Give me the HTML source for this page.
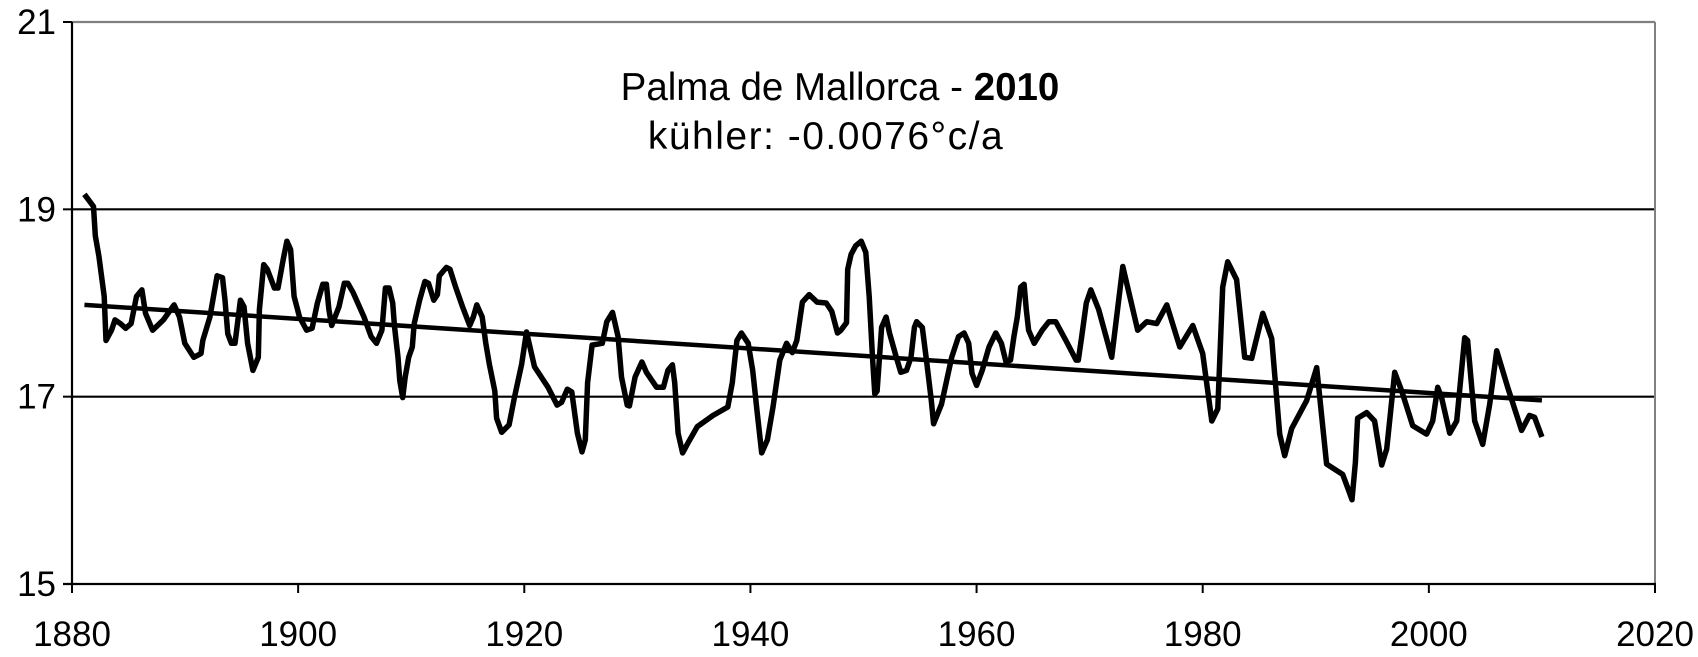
<!DOCTYPE html>
<html>
<head>
<meta charset="utf-8">
<style>
html,body{margin:0;padding:0;background:#fff;}
svg{display:block;}
text{font-family:"Liberation Sans",Arial,sans-serif;fill:#000;}
</style>
</head>
<body>
<svg id="chart" width="1698" height="657" viewBox="0 0 1698 657" xmlns="http://www.w3.org/2000/svg">
  <g id="grid"></g>
  <g id="axes"></g>
  <g id="series"></g>
  <text x="840" y="100" font-size="38.5" text-anchor="middle">Palma de Mallorca - <tspan font-weight="bold">2010</tspan></text>
  <text x="826" y="149" font-size="39" text-anchor="middle" letter-spacing="1.5">kühler: -0.0076°c/a</text>
</svg>
<script>
const years = [1881.1,1881.9,1882.06,1882.38,1882.85,1883.01,1883.49,1883.8,1884.28,1884.75,1885.23,1885.7,1886.18,1886.5,1887.13,1888.08,1889.03,1889.51,1889.98,1890.77,1891.41,1891.57,1892.2,1892.83,1893.31,1893.53,1893.78,1894.1,1894.42,1894.89,1895.21,1895.53,1896.0,1896.48,1896.57,1896.95,1897.27,1897.9,1898.22,1898.69,1899.01,1899.33,1899.64,1900.12,1900.75,1901.23,1901.7,1902.18,1902.5,1902.72,1902.97,1903.61,1904.08,1904.4,1904.87,1905.82,1906.46,1906.93,1907.41,1907.72,1908.04,1908.36,1908.52,1908.83,1908.99,1909.25,1909.47,1909.78,1910.1,1910.26,1910.74,1911.21,1911.53,1912.0,1912.32,1912.48,1913.11,1913.43,1913.9,1914.54,1915.17,1915.49,1915.8,1916.28,1916.6,1916.91,1917.39,1917.55,1918.0,1918.66,1919.13,1919.77,1920.2,1920.9,1922.1,1922.9,1923.3,1923.8,1924.2,1924.7,1925.1,1925.4,1925.6,1926.0,1926.9,1927.3,1927.8,1928.3,1928.6,1929.1,1929.3,1929.8,1930.4,1930.8,1931.7,1932.3,1932.7,1933.1,1933.3,1933.6,1934.0,1934.5,1935.3,1936.7,1938.0,1938.4,1938.8,1939.2,1939.8,1940.2,1940.6,1941.0,1941.5,1942.0,1942.6,1943.2,1943.7,1944.1,1944.6,1945.2,1945.9,1946.7,1947.2,1947.7,1948.0,1948.5,1948.6,1948.9,1949.3,1949.8,1950.2,1950.5,1950.8,1951.0,1951.2,1951.6,1952.0,1952.3,1952.9,1953.3,1953.8,1954.2,1954.5,1954.7,1955.2,1955.6,1956.0,1956.2,1956.9,1957.8,1958.4,1958.9,1959.3,1959.6,1960.0,1960.5,1961.1,1961.7,1962.2,1962.6,1963.0,1963.3,1963.6,1963.9,1964.2,1964.4,1964.6,1965.1,1965.8,1966.4,1967.0,1967.9,1968.8,1969.0,1969.3,1969.7,1970.1,1970.8,1971.95,1972.93,1974.25,1975.05,1975.93,1976.82,1977.97,1979.12,1980.0,1980.8,1981.33,1981.77,1982.21,1983.0,1983.71,1984.33,1985.31,1986.1,1986.81,1987.25,1987.87,1989.2,1990.08,1990.96,1992.38,1992.9,1993.2,1993.5,1993.7,1994.5,1995.2,1995.83,1996.27,1996.98,1997.6,1998.57,1999.8,2000.34,2000.78,2001.13,2001.84,2002.46,2003.17,2003.43,2004.05,2004.76,2005.38,2006.0,2006.97,2008.2,2008.9,2009.35,2010.0];
const temps = [19.16,19.03,18.72,18.5,18.07,17.6,17.71,17.82,17.78,17.73,17.78,18.07,18.14,17.89,17.71,17.82,17.98,17.85,17.57,17.42,17.46,17.6,17.85,18.29,18.27,18.03,17.67,17.57,17.57,18.03,17.96,17.57,17.28,17.42,17.93,18.41,18.36,18.16,18.16,18.47,18.66,18.57,18.07,17.85,17.71,17.73,18.0,18.2,18.2,17.93,17.76,17.96,18.21,18.21,18.11,17.85,17.64,17.57,17.71,18.16,18.16,18.0,17.75,17.42,17.17,16.99,17.21,17.42,17.53,17.78,18.03,18.23,18.21,18.03,18.09,18.29,18.38,18.36,18.18,17.96,17.76,17.85,17.98,17.85,17.57,17.35,17.06,16.77,16.62,16.7,16.99,17.35,17.69,17.32,17.1,16.91,16.94,17.08,17.05,16.61,16.41,16.54,17.15,17.55,17.57,17.8,17.9,17.64,17.21,16.91,16.9,17.21,17.37,17.26,17.1,17.1,17.28,17.34,17.15,16.61,16.4,16.51,16.68,16.8,16.89,17.15,17.6,17.68,17.57,17.28,16.83,16.4,16.54,16.89,17.39,17.57,17.47,17.6,18.01,18.09,18.01,18.0,17.91,17.68,17.71,17.79,18.36,18.52,18.61,18.66,18.54,18.07,17.42,17.03,17.06,17.74,17.85,17.68,17.42,17.26,17.28,17.42,17.74,17.8,17.74,17.36,16.96,16.71,16.92,17.42,17.64,17.68,17.57,17.25,17.12,17.28,17.53,17.68,17.57,17.37,17.39,17.64,17.85,18.17,18.2,17.93,17.71,17.57,17.71,17.8,17.8,17.6,17.39,17.39,17.64,18.0,18.14,17.93,17.42,18.39,17.71,17.8,17.78,17.98,17.53,17.76,17.46,16.74,16.87,18.17,18.44,18.25,17.42,17.41,17.89,17.62,16.6,16.37,16.66,16.96,17.31,16.28,16.17,16.0,15.9,16.3,16.77,16.83,16.74,16.27,16.44,17.26,17.06,16.69,16.6,16.74,17.1,16.99,16.61,16.74,17.63,17.6,16.74,16.49,16.92,17.49,17.1,16.64,16.8,16.78,16.57];
const trendYears = [1881.1, 2010.0];
const trendValues = [17.98, 16.96];
const yTicks = [15, 17, 19, 21];
const xTicks = [1880, 1900, 1920, 1940, 1960, 1980, 2000, 2020];

const X0 = 72, X1 = 1655, Y0 = 584, Y1 = 22;
function xs(yr){ return X0 + (yr - 1880) / 140 * (X1 - X0); }
function ys(v){ return Y0 - (v - 15) / 6 * (Y0 - Y1); }
const NS = "http://www.w3.org/2000/svg";
function mk(tag, attrs, parent){
  const e = document.createElementNS(NS, tag);
  for (const k in attrs) e.setAttribute(k, attrs[k]);
  parent.appendChild(e);
  return e;
}
const grid = document.getElementById('grid');
const axes = document.getElementById('axes');
const series = document.getElementById('series');

yTicks.forEach(function(v){
  const y = ys(v);
  if (v !== 15) {
    const gl = mk('line', {x1: X0, x2: X1, y1: y, y2: y, stroke: v === 21 ? '#808080' : '#000', 'stroke-width': 2.2}, grid);
    
    
  }
  const tk = mk('line', {x1: X0 - 9, x2: X0, y1: y, y2: y, stroke: '#000', 'stroke-width': 2}, axes);
  
  
  const t = mk('text', {x: 56, y: y + 12, 'font-size': 35, 'text-anchor': 'end'}, axes);
  t.textContent = String(v);
  
  
});

const rb = mk('line', {x1: X1, x2: X1, y1: Y1, y2: Y0, stroke: '#808080', 'stroke-width': 2}, axes);


const ya = mk('line', {x1: X0, x2: X0, y1: Y1, y2: Y0 + 1, stroke: '#000', 'stroke-width': 2.2}, axes);


const xa = mk('line', {x1: X0 - 9, x2: X1 + 1, y1: Y0, y2: Y0, stroke: '#000', 'stroke-width': 2.2}, axes);



xTicks.forEach(function(yr){
  const x = xs(yr);
  const tk = mk('line', {x1: x, x2: x, y1: Y0, y2: Y0 + 9, stroke: '#000', 'stroke-width': 2}, axes);
  
  
  const t = mk('text', {x: x, y: 646, 'font-size': 35, 'text-anchor': 'middle'}, axes);
  t.textContent = String(yr);
  
  
});

const tl = mk('line', {x1: xs(trendYears[0]), y1: ys(trendValues[0]), x2: xs(trendYears[1]), y2: ys(trendValues[1]), stroke: '#000', 'stroke-width': 4.5}, series);



const pts = years.map(function(yr, i){ return xs(yr).toFixed(1) + ',' + ys(temps[i]).toFixed(1); }).join(' ');
const pl = mk('polyline', {points: pts, fill: 'none', stroke: '#000', 'stroke-width': 5.5, 'stroke-linejoin': 'round'}, series);


</script>
</body>
</html>
